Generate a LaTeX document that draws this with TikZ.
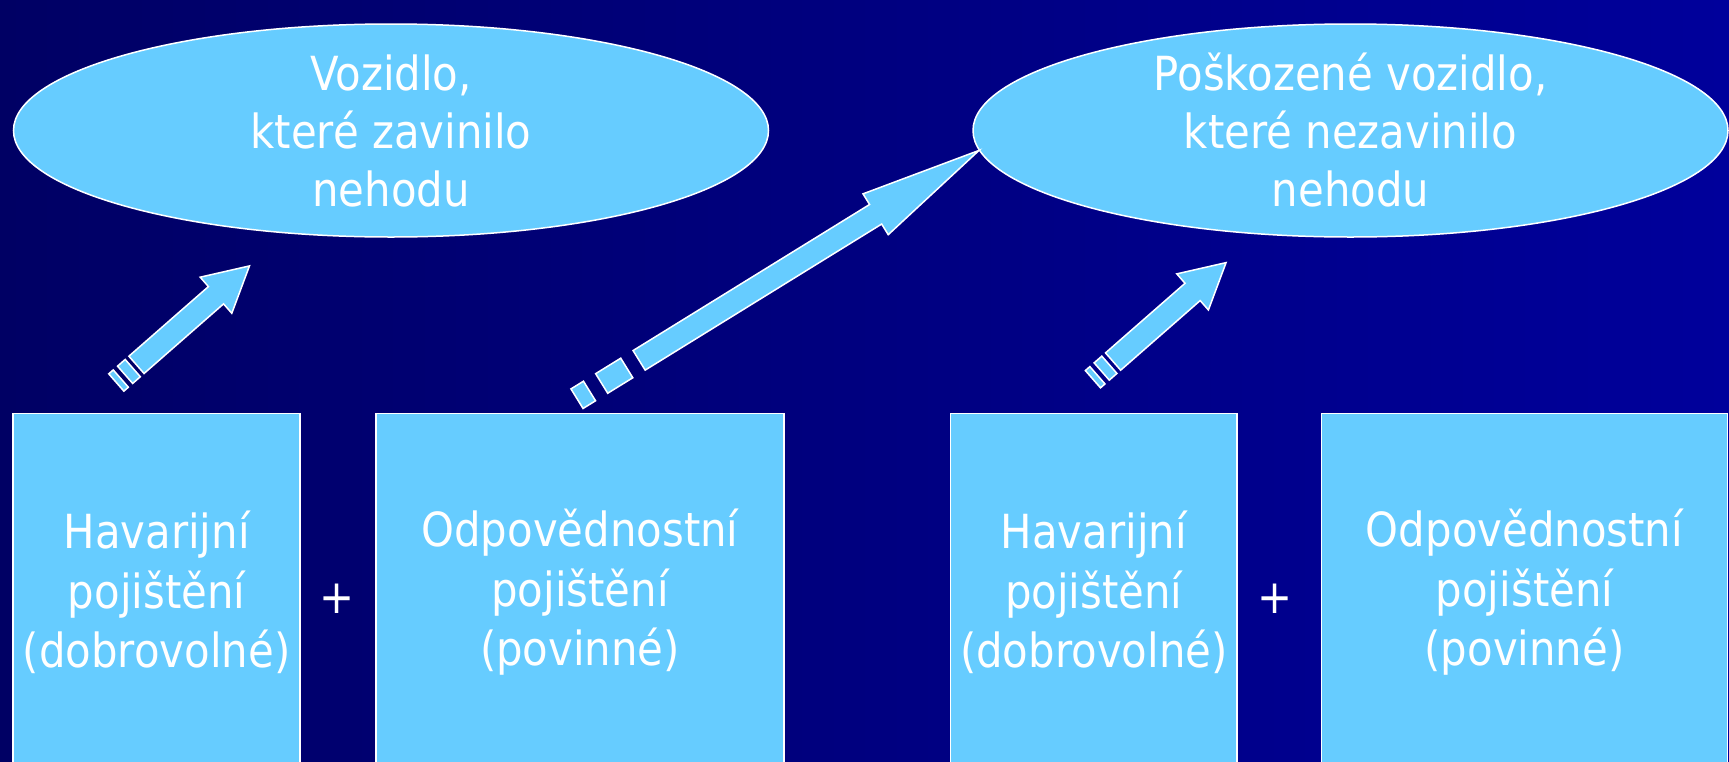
\documentclass[tikz,border=0pt]{standalone}
\usepackage{fontspec}
\setmainfont[FakeStretch=0.89]{DejaVu Sans}
\usetikzlibrary{shapes.geometric}
\definecolor{tmava}{RGB}{0,0,100}
\definecolor{modra}{RGB}{0,0,155}
\definecolor{svetla}{RGB}{102,204,255}
\tikzset{
  vuz/.style={ellipse, draw=white, line width=1.5pt, fill=svetla, minimum width=755, minimum height=213, inner sep=0pt},
  popis/.style={text=white, align=center, font=\fontsize{47}{58}\selectfont, inner sep=0pt},
  pojistka/.style={draw=white, line width=1.5pt, fill=svetla, minimum height=358, inner sep=0pt, text=white, align=center, font=\fontsize{47}{59.5}\selectfont},
  plus/.style={text=white, font=\fontsize{47}{56}\selectfont, inner sep=0pt},
  sipkastyl/.style={draw=white, line width=1.5pt, fill=svetla, line join=miter},
}
% pruhovana sipka: start, uhel, pruh2, pruh1 od, pruh1 do, driek, zaklad hrotu, spicka
\newcommand{\pruhsipka}[8]{%
  \begin{scope}[shift={#1},rotate=#2]
    \draw[sipkastyl] (0,-11.5) -- (#3,-11.5) -- (#3,11.5) -- (0,11.5) -- cycle;
    \draw[sipkastyl] (#4,-11.5) -- (#5,-11.5) -- (#5,11.5) -- (#4,11.5) -- cycle;
    \draw[sipkastyl] (#6,-11.5) -- (#7,-11.5) -- (#7,-24) -- (#8,0) -- (#7,24) -- (#7,11.5) -- (#6,11.5) -- cycle;
  \end{scope}}
\begin{document}
\begin{tikzpicture}[x=1pt,y=-1pt]
\clip (0,0) rectangle (1729,761);
\fill[left color=tmava, right color=modra] (0,0) rectangle (1729,761);
\node[vuz] (vz) at (391,130.5) {};
\node[popis] (vzt) at (vz.center) {Vozidlo,\\které zavinilo\\nehodu};
\node[vuz] (pv) at (1350.5,130.5) {};
\node[popis] (pvt) at (pv.center) {Poškozené vozidlo,\\které nezavinilo\\nehodu};
\node[pojistka, minimum width=287] (hav1) at (156.6,592.3) {Havarijní\\pojištění\\(dobrovolné)};
\node[plus] (plus1) at (337.4,598.8) {+};
\node[pojistka, minimum width=408] (odp1) at (580,592.3) {Odpovědnostní\\pojištění\\(povinné)};
\node[pojistka, minimum width=286.5] (hav2) at (1093.8,592.3) {Havarijní\\pojištění\\(dobrovolné)};
\node[plus] (plus2) at (1274.7,598.8) {+};
\node[pojistka, minimum width=406] (odp2) at (1524.5,592.3) {Odpovědnostní\\pojištění\\(povinné)};
\coordinate (s1) at (116.3,382.5);
\pruhsipka{(s1)}{41.2}{6}{11.7}{21.9}{26.8}{132.5}{177}
\coordinate (s2) at (577,398.7);
\pruhsipka{(s2)}{31.7}{14.7}{29}{58.5}{73}{351}{472.5}
\coordinate (s3) at (1092.9,379.2);
\pruhsipka{(s3)}{41.2}{6}{11.7}{21.9}{26.8}{132.5}{177}
\end{tikzpicture}
\end{document}
